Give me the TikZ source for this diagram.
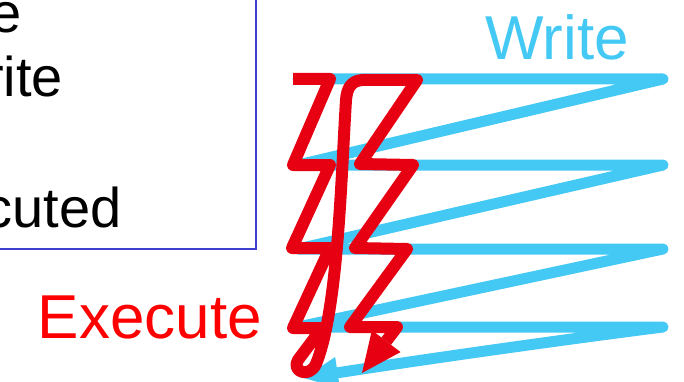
\documentclass[tikz,border=0pt]{standalone}
\usepackage{fontspec}
\setmainfont{Liberation Sans}
\usetikzlibrary{arrows.meta}
\definecolor{SkyBlue}  {RGB}{68,200,244}
\definecolor{BoltRed}  {RGB}{230,0,18}
\definecolor{TextRed}  {RGB}{255,0,0}
\definecolor{FrameBlue}{RGB}{64,64,208}
\tikzset{
  writepath/.style={
    draw=SkyBlue, line width=11pt, line cap=round, line join=round,
    -{Triangle[length=34pt,width=32pt,line width=0pt]}
  },
  boltpath/.style={
    draw=BoltRed, line width=12pt, line join=round,
    -{Triangle[length=40pt,width=36pt,line width=0pt]}
  },
  panel/.style={draw=FrameBlue, line width=2.5pt, inner sep=0pt},
  panetext/.style={anchor=base east, inner sep=0pt,
                   font=\fontsize{56}{56}\selectfont},
  bigword/.style={anchor=base east, inner sep=0pt,
                  font=\fontsize{62}{62}\selectfont}
}

\begin{document}
\begin{tikzpicture}[x=1pt, y=-1pt]
  \useasboundingbox (0,0) rectangle (684,382);
  \clip (0,0) rectangle (684,382);

  \node[panel, minimum width=300pt, minimum height=290pt,
        anchor=south east] (frame) at (257,250) {};
  \node[panetext] (lineA) at (22,33)  {e};
  \node[panetext] (lineB) at (63,97)  {rite};
  \node[panetext] (lineC) at (122,227) {cuted};

  \node[bigword, text=SkyBlue] (write) at (629,60)  {Write};
  \node[bigword, text=TextRed] (exec)  at (262,338) {Execute};

  \draw[writepath] (298,79) -- (663,79) -- (298,165) -- (663,165)
    -- (298,249) -- (663,249) -- (298,327) -- (663,327)
    .. controls (560,340) and (420,360) .. (304,378);

  \draw[boltpath] (293,79) -- (330,79) -- (293,165) -- (330,165)
    -- (292,248) -- (330,248) -- (293,328) -- (322,328) -- (298,360)
    .. controls (291,371) and (309,379) .. (316,364)
    .. controls (338,310) and (341,180) .. (346,100)
    .. controls (347,88) and (351,81) .. (362,80)
    -- (417,80) -- (360,164) -- (413,165) -- (355,248)
    -- (407,249) -- (350,327) -- (397,327) -- (362,373);
\end{tikzpicture}
\end{document}
